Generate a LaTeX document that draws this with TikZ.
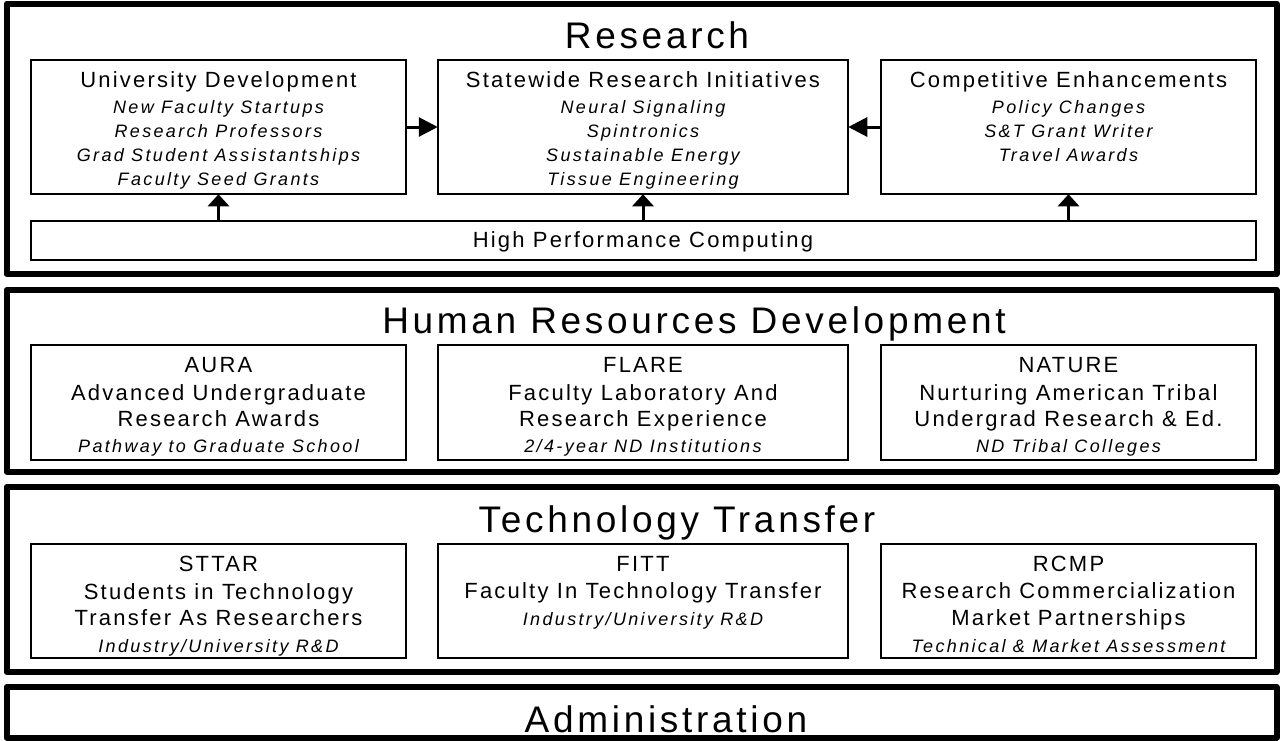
\documentclass[tikz,border=0pt]{standalone}
\usepackage{fontspec}
\setmainfont{Liberation Sans}
\newfontfamily\titlefont[LetterSpace=10]{Liberation Sans}
\newfontfamily\headfont[LetterSpace=10]{Liberation Sans}
\newfontfamily\subfont[LetterSpace=13]{Liberation Sans}
\usetikzlibrary{arrows.meta}
\begin{document}
\begin{tikzpicture}[x=1pt,y=-1pt,
  outerbox/.style={draw, line width=6pt, line join=round, inner sep=0pt, minimum width=1270pt},
  innerbox/.style={draw, line width=1.5pt, inner sep=0pt},
  colA/.style={innerbox, minimum width=375pt},
  colB/.style={innerbox, minimum width=410pt},
  colC/.style={innerbox, minimum width=375pt},
  ttl/.style={anchor=base, inner sep=0pt, font=\titlefont\fontsize{37}{44}\selectfont},
  hd/.style={anchor=base, inner sep=0pt, font=\headfont\fontsize{22}{26}\selectfont},
  sub/.style={anchor=base, inner sep=0pt, font=\subfont\itshape\fontsize{18}{21}\selectfont},
  harrow/.style={line width=3pt, -{Triangle[length=19pt,width=19pt]}, shorten >=-0.5pt},
  varrow/.style={line width=3pt, -{Triangle[length=12pt,width=21pt]}, shorten >=-0.5pt},
]
\useasboundingbox (0,0) rectangle (1283,740);

% ---------- outer frames ----------
\node[outerbox, minimum height=270.5pt] (research) at (641.5,138.75) {};
\node[outerbox, minimum height=181.5pt] (hrd) at (641.5,380.75) {};
\node[outerbox, minimum height=185pt] (tt) at (641.5,579.5) {};
\node[outerbox, minimum height=50.5pt] (admin) at (641.5,712.25) {};

% ---------- titles ----------
\node[ttl] (tres) at (657,48) {Research};
\node[ttl] (thrd) at (694,333) {Human Resources Development};
\node[ttl] (ttt) at (677,532) {Technology Transfer};
\node[ttl] (tadm) at (666,732) {Administration};

% ---------- Research ----------
\node[colA, minimum height=134pt] (ud) at (218.5,127) {};
\node[colB, minimum height=134pt] (sri) at (643,127) {};
\node[colC, minimum height=134pt] (ce) at (1068.5,127) {};
\node[innerbox, minimum width=1225pt, minimum height=39pt] (hpc) at (643.5,240.5) {};

\node[hd] (ud1) at (218.5,87) {University Development};
\node[sub] (ud2) at (218.5,113) {New Faculty Startups};
\node[sub] (ud3) at (218.5,137) {Research Professors};
\node[sub] (ud4) at (218.5,161) {Grad Student Assistantships};
\node[sub] (ud5) at (218.5,185) {Faculty Seed Grants};

\node[hd] (sri1) at (643,87) {Statewide Research Initiatives};
\node[sub] (sri2) at (643,113) {Neural Signaling};
\node[sub] (sri3) at (643,137) {Spintronics};
\node[sub] (sri4) at (643,161) {Sustainable Energy};
\node[sub] (sri5) at (643,185) {Tissue Engineering};

\node[hd] (ce1) at (1068.5,87) {Competitive Enhancements};
\node[sub] (ce2) at (1068.5,113) {Policy Changes};
\node[sub] (ce3) at (1068.5,137) {S\&T Grant Writer};
\node[sub] (ce4) at (1068.5,161) {Travel Awards};

\node[hd] (hpc1) at (643,247) {High Performance Computing};

\draw[harrow] (ud.east) -- (sri.west);
\draw[harrow] (ce.west) -- (sri.east);
\draw[varrow] (hpc.north -| ud.south) -- (ud.south);
\draw[varrow] (hpc.north -| sri.south) -- (sri.south);
\draw[varrow] (hpc.north -| ce.south) -- (ce.south);

% ---------- Human Resources Development ----------
\node[colA, minimum height=115pt] (aura) at (218.5,402.5) {};
\node[colB, minimum height=115pt] (flare) at (643,402.5) {};
\node[colC, minimum height=115pt] (nature) at (1068.5,402.5) {};

\node[hd] (aura1) at (218.5,372) {AURA};
\node[hd] (aura2) at (218.5,400) {Advanced Undergraduate};
\node[hd] (aura3) at (218.5,426) {Research Awards};
\node[sub] (aura4) at (218.5,452) {Pathway to Graduate School};

\node[hd] (flare1) at (643,372) {FLARE};
\node[hd] (flare2) at (643,400) {Faculty Laboratory And};
\node[hd] (flare3) at (643,426) {Research Experience};
\node[sub] (flare4) at (643,452) {2/4-year ND Institutions};

\node[hd] (nat1) at (1068.5,372) {NATURE};
\node[hd] (nat2) at (1068.5,400) {Nurturing American Tribal};
\node[hd] (nat3) at (1068.5,426) {Undergrad Research \& Ed.};
\node[sub] (nat4) at (1068.5,452) {ND Tribal Colleges};

% ---------- Technology Transfer ----------
\node[colA, minimum height=114pt] (sttar) at (218.5,601) {};
\node[colB, minimum height=114pt] (fitt) at (643,601) {};
\node[colC, minimum height=114pt] (rcmp) at (1068.5,601) {};

\node[hd] (st1) at (218.5,571) {STTAR};
\node[hd] (st2) at (218.5,599) {Students in Technology};
\node[hd] (st3) at (218.5,625) {Transfer As Researchers};
\node[sub] (st4) at (218.5,652) {Industry/University R\&D};

\node[hd] (fi1) at (643,571) {FITT};
\node[hd] (fi2) at (643,598) {Faculty In Technology Transfer};
\node[sub] (fi3) at (643,625) {Industry/University R\&D};

\node[hd] (rc1) at (1068.5,571) {RCMP};
\node[hd] (rc2) at (1068.5,598) {Research Commercialization};
\node[hd] (rc3) at (1068.5,625) {Market Partnerships};
\node[sub] (rc4) at (1068.5,652) {Technical \& Market Assessment};
\end{tikzpicture}
\end{document}
